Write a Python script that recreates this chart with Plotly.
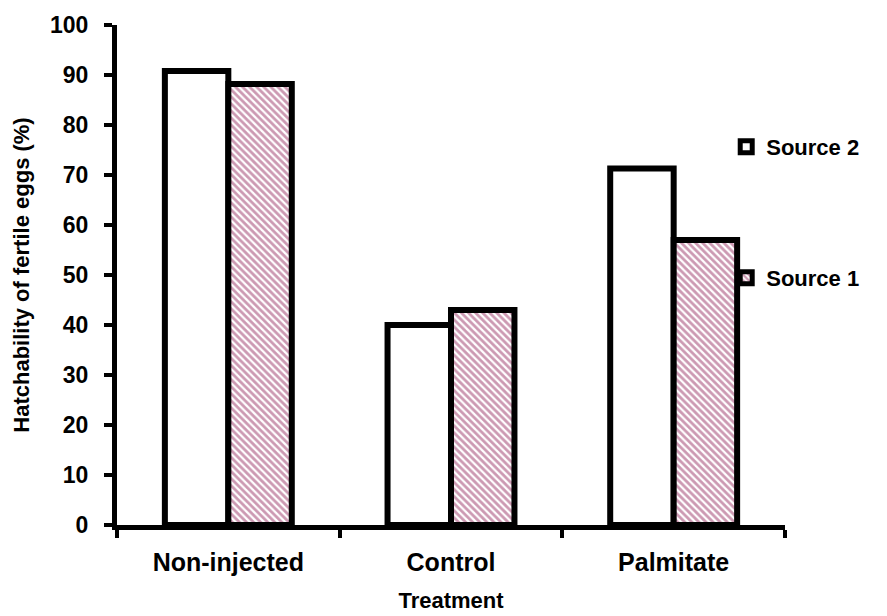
import plotly.graph_objects as go

categories = ["Non-injected", "Control", "Palmitate"]
source2 = [90.8, 40.0, 71.3]
source1 = [88.2, 43.0, 57.0]
y_ticks = [0, 10, 20, 30, 40, 50, 60, 70, 80, 90, 100]

FONT = "Liberation Sans, Arial, sans-serif"

fig = go.Figure()
fig.add_trace(go.Bar(
    x=categories, y=source2, name="Source 2", showlegend=True,
    marker=dict(color="white", line=dict(color="black", width=6)),
    legend="legend",
))
fig.add_trace(go.Bar(
    x=categories, y=source1, name="Source 1", showlegend=True,
    marker=dict(color="white", line=dict(color="black", width=6),
                pattern=dict(shape="\\", fgcolor="#993366", bgcolor="white",
                             size=5, solidity=0.55)),
    legend="legend2",
))

legend_common = dict(x=0.912, xanchor="left", yanchor="middle",
                     font=dict(size=22, weight="bold"),
                     bgcolor="rgba(0,0,0,0)", itemwidth=30)

# the page body adds an 8px offset, so margins are shifted to compensate
fig.update_layout(
    width=887, height=616,
    margin=dict(l=109, r=110, t=17, b=99, autoexpand=False),
    plot_bgcolor="white", paper_bgcolor="white",
    barmode="group", bargap=0.43, bargroupgap=0,
    showlegend=True,
    font=dict(family=FONT, size=22, color="black", weight="bold"),
    legend=dict(y=0.756, **legend_common),
    legend2=dict(y=0.494, **legend_common),
    xaxis=dict(
        range=[-0.5, 2.5], showline=True, linecolor="black", linewidth=5,
        ticks="outside", tickson="boundaries", ticklen=8, tickwidth=4,
        tickcolor="black", showgrid=False, zeroline=False,
        ticklabelstandoff=11, automargin=False,
        tickfont=dict(size=25, weight="bold"),
        title=dict(text="Treatment", font=dict(size=22, weight="bold"), standoff=19),
    ),
    yaxis=dict(
        range=[0, 100], tickvals=y_ticks, showline=True, linecolor="black",
        linewidth=5, ticks="outside", ticklen=8, tickwidth=4, tickcolor="black",
        showgrid=False, zeroline=False, automargin=False,
        ticklabelstandoff=11,
        tickfont=dict(size=23, weight="bold"),
        title=dict(text="Hatchability of fertile eggs (%)",
                   font=dict(size=22, weight="bold"), standoff=16),
    ),
)

fig.write_html("out.html")
